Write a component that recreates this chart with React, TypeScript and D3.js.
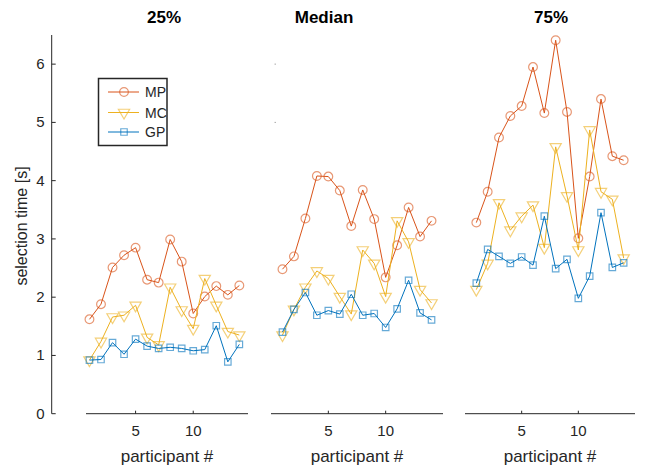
import { useEffect, useRef } from 'react';
import * as d3 from 'd3';

// participant numbers on the x axis
const participants = [1, 2, 3, 4, 5, 6, 7, 8, 9, 10, 11, 12, 13, 14];
const titles = ['25%', 'Median', '75%'];
const seriesNames = ['MP', 'MC', 'GP'];
const yTicks = [0, 1, 2, 3, 4, 5, 6];
const xTicks = [5, 10];

// 25% quantile
const mp25 = [1.62, 1.88, 2.51, 2.72, 2.85, 2.3, 2.25, 2.99, 2.61, 1.72, 2.01, 2.19, 2.04, 2.2];
const mc25 = [0.92, 1.24, 1.66, 1.69, 1.86, 1.31, 1.18, 2.17, 1.78, 1.46, 2.32, 1.86, 1.41, 1.35];
const gp25 = [0.92, 0.93, 1.22, 1.02, 1.28, 1.16, 1.12, 1.14, 1.12, 1.08, 1.1, 1.51, 0.89, 1.19];

// median
const mpMed = [2.48, 2.7, 3.35, 4.08, 4.07, 3.83, 3.22, 3.84, 3.34, 2.34, 2.89, 3.54, 3.04, 3.31];
const mcMed = [1.35, 1.79, 2.17, 2.45, 2.32, 2.01, 1.71, 2.81, 2.58, 2.01, 3.31, 2.95, 2.13, 1.9];
const gpMed = [1.4, 1.79, 2.08, 1.69, 1.77, 1.71, 2.05, 1.69, 1.72, 1.48, 1.8, 2.29, 1.73, 1.61];

// 75% quantile
const mp75 = [3.28, 3.81, 4.74, 5.11, 5.28, 5.95, 5.16, 6.41, 5.18, 3.01, 4.07, 5.4, 4.42, 4.35];
const mc75 = [2.13, 2.58, 3.62, 3.15, 3.39, 3.58, 2.85, 4.58, 3.74, 2.81, 4.87, 3.81, 3.68, 2.67];
const gp75 = [2.24, 2.82, 2.7, 2.58, 2.69, 2.55, 3.39, 2.49, 2.65, 1.98, 2.36, 3.45, 2.51, 2.59];

const colors = ['#D95319', '#EDB120', '#0072BD'];
const axisColor = '#262626';
const font = '"Liberation Sans", Arial, sans-serif';

const App = () => {
    const svgRef = useRef(null);
    const width = 649;
    const height = 467;

    useEffect(() => {
        const svg = d3.select(svgRef.current);
        svg.selectAll('*').remove();

        const panels = [
            { title: titles[0], data: [mp25, mc25, gp25], domain: [0.7, 14.75], range: [86, 248], titleX: 164 },
            { title: titles[1], data: [mpMed, mcMed, gpMed], domain: [0, 15], range: [271, 443], titleX: 324 },
            { title: titles[2], data: [mp75, mc75, gp75], domain: [0, 15], range: [465, 635], titleX: 551 },
        ];

        const yScale = d3.scaleLinear().domain([0, 6.5]).range([413.7, 35]);

        // y axis (only on the left)
        const yAxis = svg.append('g').attr('transform', 'translate(51.7,0)');
        yAxis.append('line')
            .attr('y1', yScale(0)).attr('y2', yScale(6.5))
            .attr('stroke', axisColor).attr('stroke-width', 1);
        yAxis.selectAll('.tick')
            .data(yTicks)
            .join('line')
            .attr('x1', 0).attr('x2', 4)
            .attr('y1', d => yScale(d)).attr('y2', d => yScale(d))
            .attr('stroke', axisColor);
        yAxis.selectAll('text')
            .data(yTicks)
            .join('text')
            .attr('x', -7)
            .attr('y', d => yScale(d) + 5)
            .attr('text-anchor', 'end')
            .attr('font-family', font)
            .attr('font-size', 15)
            .attr('fill', axisColor)
            .text(d => d);

        svg.append('text')
            .attr('transform', 'rotate(-90)')
            .attr('x', -226)
            .attr('y', 27)
            .attr('text-anchor', 'middle')
            .attr('font-family', font)
            .attr('font-size', 16)
            .attr('fill', axisColor)
            .text('selection time [s]');

        // leftover tick marks in the median panel
        svg.selectAll('.stray')
            .data([5, 6])
            .join('rect')
            .attr('x', 274.5).attr('y', d => yScale(d) - 0.5)
            .attr('width', 1.5).attr('height', 1)
            .attr('fill', '#aaaaaa');

        const symbols = [d3.symbolCircle, d3.symbolTriangle, d3.symbolSquare];
        const symbolSizes = [60, 55, 42];

        panels.forEach(p => {
            const xScale = d3.scaleLinear().domain(p.domain).range(p.range);
            const g = svg.append('g');

            g.append('line')
                .attr('x1', p.range[0]).attr('x2', p.range[1])
                .attr('y1', yScale(0)).attr('y2', yScale(0))
                .attr('stroke', axisColor);
            g.selectAll('.xt')
                .data(xTicks)
                .join('line')
                .attr('x1', d => xScale(d)).attr('x2', d => xScale(d))
                .attr('y1', yScale(0)).attr('y2', yScale(0) - 3)
                .attr('stroke', axisColor);
            g.selectAll('.xl')
                .data(xTicks)
                .join('text')
                .attr('x', d => xScale(d))
                .attr('y', 436)
                .attr('text-anchor', 'middle')
                .attr('font-family', font)
                .attr('font-size', 15)
                .attr('fill', axisColor)
                .text(d => d);

            g.append('text')
                .attr('x', (p.range[0] + p.range[1]) / 2)
                .attr('y', 462)
                .attr('text-anchor', 'middle')
                .attr('font-family', font)
                .attr('font-size', 17)
                .attr('fill', axisColor)
                .text('participant #');

            g.append('text')
                .attr('x', p.titleX)
                .attr('y', 22.5)
                .attr('text-anchor', 'middle')
                .attr('font-family', font)
                .attr('font-size', 17)
                .attr('font-weight', 'bold')
                .attr('fill', '#000')
                .text(p.title);

            const line = d3.line()
                .x((d, i) => xScale(participants[i]))
                .y(d => yScale(d));

            p.data.forEach((vals, s) => {
                g.append('path')
                    .attr('d', line(vals))
                    .attr('fill', 'none')
                    .attr('stroke', colors[s])
                    .attr('stroke-width', 1);
                g.selectAll('.m' + s)
                    .data(vals)
                    .join('path')
                    .attr('class', 'm' + s)
                    .attr('d', d3.symbol().type(symbols[s]).size(symbolSizes[s]))
                    .attr('transform', (d, i) =>
                        `translate(${xScale(participants[i])},${yScale(d)})` + (s === 1 ? ' rotate(180)' : ''))
                    .attr('fill', 'none')
                    .attr('stroke', colors[s])
                    .attr('stroke-opacity', 0.6)
                    .attr('stroke-width', 1.2);
            });
        });

        // legend
        const legend = svg.append('g');
        legend.append('rect')
            .attr('x', 98.5).attr('y', 78.5)
            .attr('width', 68.5).attr('height', 67)
            .attr('fill', '#fff')
            .attr('stroke', axisColor)
            .attr('stroke-width', 1.5);
        const legendY = [92, 112.5, 132];
        seriesNames.forEach((name, s) => {
            legend.append('line')
                .attr('x1', 108).attr('x2', 139)
                .attr('y1', legendY[s]).attr('y2', legendY[s])
                .attr('stroke', colors[s]);
            legend.append('path')
                .attr('d', d3.symbol().type(symbols[s]).size(symbolSizes[s])())
                .attr('transform', `translate(124,${legendY[s]})` + (s === 1 ? ' rotate(180)' : ''))
                .attr('fill', 'none')
                .attr('stroke', colors[s])
                .attr('stroke-opacity', 0.6)
                .attr('stroke-width', 1.2);
            legend.append('text')
                .attr('x', 145)
                .attr('y', legendY[s] + 5)
                .attr('font-family', font)
                .attr('font-size', 14)
                .attr('fill', axisColor)
                .text(name);
        });
    }, []);

    return (
        <svg ref={svgRef} width={width} height={height}
            style={{ position: 'absolute', left: 0, top: 0, background: '#fff' }}></svg>
    );
};

export default App;
